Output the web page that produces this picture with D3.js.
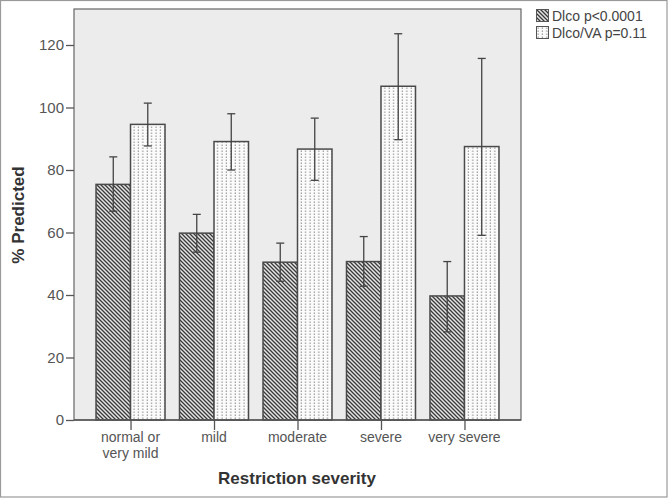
<!DOCTYPE html>
<html><head><meta charset="utf-8">
<script src="https://cdn.jsdelivr.net/npm/d3@7"></script>
<style>body{margin:0;background:#fff;} svg{display:block;}</style>
</head><body>
<script>
const categories = [["normal or","very mild"],["mild"],["moderate"],["severe"],["very severe"]];
const seriesNames = ["Dlco p<0.0001","Dlco/VA p=0.11"];
const dlco = [75.4, 59.8, 50.5, 50.7, 39.7];
const dlcoLow = [66.8, 53.7, 44.4, 42.8, 28.2];
const dlcoHigh = [84.2, 65.8, 56.6, 58.7, 50.7];
const dlcova = [94.6, 89.1, 86.7, 106.8, 87.5];
const dlcovaLow = [87.7, 80.0, 76.7, 89.7, 59.1];
const dlcovaHigh = [101.4, 98.0, 96.6, 123.6, 115.7];
const yTicks = [0,20,40,60,80,100,120];

const W=668,H=499;
const svg=d3.select("body").append("svg").attr("width",W).attr("height",H);
const defs=svg.append("defs");
// hatch pattern
const ph=defs.append("pattern").attr("id","hatch").attr("patternUnits","userSpaceOnUse")
  .attr("width",4).attr("height",4);
ph.append("rect").attr("width",4).attr("height",4).attr("fill","#e4e4e4");
ph.append("path").attr("d","M-1,-1 L5,5 M-1,3 L1,5 M3,-1 L5,1").attr("stroke","#3a3a3a").attr("stroke-width",1.3);
// dotted pattern
const pd=defs.append("pattern").attr("id","dots").attr("patternUnits","userSpaceOnUse")
  .attr("width",4.4).attr("height",3);
pd.append("rect").attr("width",4.4).attr("height",3).attr("fill","#fbfbfb");
pd.append("rect").attr("x",1.5).attr("y",0.5).attr("width",1.1).attr("height",1.4).attr("fill","#8a8a8a");

// outer frame
svg.append("rect").attr("x",0.5).attr("y",0.5).attr("width",W-1.5).attr("height",H-2.5)
  .attr("fill","none").attr("stroke","#9a9a9a").attr("stroke-width",1.2);

const L=74,R=521,T=9,B=420;
svg.append("rect").attr("x",L).attr("y",T).attr("width",R-L).attr("height",B-T)
  .attr("fill","#ececec").attr("stroke","#666").attr("stroke-width",1.2);

const x=d3.scalePoint().domain(d3.range(categories.length)).range([L,R]).padding(0.677);
const y=d3.scaleLinear().domain([0,120]).range([B,45]);
const bw=34.5;

const groups=[
  {vals:dlco,lo:dlcoLow,hi:dlcoHigh,fill:"url(#hatch)",off:-bw},
  {vals:dlcova,lo:dlcovaLow,hi:dlcovaHigh,fill:"url(#dots)",off:0}
];
groups.forEach(g=>{
  svg.append("g").selectAll("rect").data(g.vals).join("rect")
    .attr("x",(d,i)=>x(i)+g.off).attr("y",d=>y(d))
    .attr("width",bw).attr("height",d=>y(0)-y(d))
    .attr("fill",g.fill).attr("stroke","#4a4a4a").attr("stroke-width",1.5);
});
groups.forEach(g=>{
  const eg=svg.append("g").attr("stroke","#444").attr("stroke-width",1.3);
  g.vals.forEach((d,i)=>{
    const cx=x(i)+g.off+bw/2;
    eg.append("line").attr("x1",cx).attr("x2",cx).attr("y1",y(g.lo[i])).attr("y2",y(g.hi[i]));
    eg.append("line").attr("x1",cx-4).attr("x2",cx+4).attr("y1",y(g.lo[i])).attr("y2",y(g.lo[i]));
    eg.append("line").attr("x1",cx-4).attr("x2",cx+4).attr("y1",y(g.hi[i])).attr("y2",y(g.hi[i]));
  });
});

// axes
const font="'Liberation Sans Narrow','Liberation Sans',Arial,sans-serif";
const ya=svg.append("g").attr("transform",`translate(${L},0)`)
  .call(d3.axisLeft(y).tickValues(yTicks).tickSize(8).tickPadding(2));
ya.select(".domain").remove();
ya.selectAll("line").attr("stroke","#555").attr("stroke-width",1.3);
ya.selectAll("text").attr("font-family",font).attr("font-size",15).attr("fill","#555");

const xa=svg.append("g").attr("transform",`translate(0,${B})`)
  .call(d3.axisBottom(x).tickSize(10).tickFormat(""));
xa.select(".domain").remove();
xa.selectAll("line").attr("stroke","#555").attr("stroke-width",1.3);
svg.append("line").attr("x1",L).attr("x2",R).attr("y1",B).attr("y2",B).attr("stroke","#555").attr("stroke-width",1.5);

const xl=svg.append("g");
categories.forEach((c,i)=>{
  const t=xl.append("text").attr("x",x(i)).attr("y",442).attr("text-anchor","middle")
    .attr("font-family",font).attr("font-size",14).attr("fill","#555");
  c.forEach((s,j)=>t.append("tspan").attr("x",x(i)).attr("dy",j?15.5:0).text(s));
});

svg.append("text").attr("x",297).attr("y",484).attr("text-anchor","middle")
  .attr("font-family","'Liberation Sans',Arial,sans-serif").attr("font-weight","bold")
  .attr("font-size",17).attr("fill","#333").text("Restriction severity");
svg.append("text").attr("transform","translate(24,215) rotate(-90)").attr("text-anchor","middle")
  .attr("font-family","'Liberation Sans',Arial,sans-serif").attr("font-weight","bold")
  .attr("font-size",17).attr("fill","#333").text("% Predicted");

// legend
const lg=svg.append("g").attr("transform","translate(536,9)");
seriesNames.forEach((s,i)=>{
  lg.append("rect").attr("x",0.5).attr("y",i*17+0.5).attr("width",12).attr("height",12)
    .attr("fill",i?"url(#dots)":"url(#hatch)").attr("stroke","#555").attr("stroke-width",1);
  lg.append("text").attr("x",16).attr("y",i*17+11.5).attr("font-family",font)
    .attr("font-size",14).attr("fill","#444").text(s);
});
</script>
</body></html>
